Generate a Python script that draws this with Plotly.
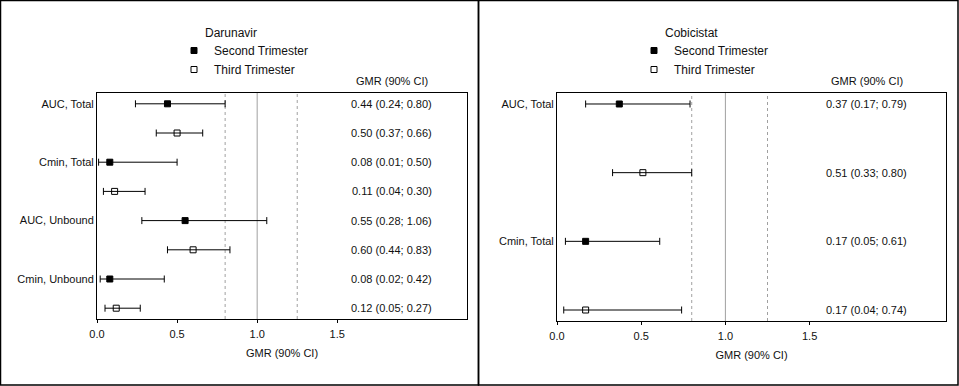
import plotly.graph_objects as go

# ---------------- data ----------------
drv_params = ["AUC, Total", "Cmin, Total", "AUC, Unbound", "Cmin, Unbound"]
drv_t2_est = [0.44, 0.08, 0.55, 0.08]
drv_t2_lo = [0.24, 0.01, 0.28, 0.02]
drv_t2_hi = [0.80, 0.50, 1.06, 0.42]
drv_t3_est = [0.50, 0.11, 0.60, 0.12]
drv_t3_lo = [0.37, 0.04, 0.44, 0.05]
drv_t3_hi = [0.66, 0.30, 0.83, 0.27]

cobi_params = ["AUC, Total", "Cmin, Total"]
cobi_t2_est = [0.37, 0.17]
cobi_t2_lo = [0.17, 0.05]
cobi_t2_hi = [0.79, 0.61]
cobi_t3_est = [0.51, 0.17]
cobi_t3_lo = [0.33, 0.04]
cobi_t3_hi = [0.80, 0.74]

panel_titles = ["Darunavir", "Cobicistat"]
series_names = ["Second Trimester", "Third Trimester"]
ref_lines = [0.8, 1.0, 1.25]
x_ticks = [0.0, 0.5, 1.0, 1.5]
x_ticklabels = ["0.0", "0.5", "1.0", "1.5"]
axis_title = "GMR (90% CI)"

W, H = 959, 386
FONT = "Liberation Sans, Arial, sans-serif"

fig = go.Figure()


def px_x(p):
    return p / W


def px_y(p):
    return 1 - p / H


panels = [
    dict(params=drv_params, t2=(drv_t2_est, drv_t2_lo, drv_t2_hi), t3=(drv_t3_est, drv_t3_lo, drv_t3_hi),
         xdom=[px_x(97), px_x(467)], ydom=[px_y(319), px_y(93)], pad=0.37, ax="", leg="legend",
         title=panel_titles[0], title_x=203, leg_x=174),
    dict(params=cobi_params, t2=(cobi_t2_est, cobi_t2_lo, cobi_t2_hi), t3=(cobi_t3_est, cobi_t3_lo, cobi_t3_hi),
         xdom=[px_x(557), px_x(946)], ydom=[px_y(321), px_y(93)], pad=0.16, ax="2", leg="legend2",
         title=panel_titles[1], title_x=663, leg_x=634),
]

text_x = 1.84
annotations = []
shapes = []

for p in panels:
    n = len(p["params"])
    rows_t2 = [2 * i for i in range(n)]
    rows_t3 = [2 * i + 1 for i in range(n)]
    xa = "x" + p["ax"]
    ya = "y" + p["ax"]
    for name, (est, lo, hi), rows, sym, msize in [
        (series_names[0], p["t2"], rows_t2, "square", 6),
        (series_names[1], p["t3"], rows_t3, "square-open", 6),
    ]:
        fig.add_trace(go.Scatter(
            x=est, y=rows, mode="markers", name=name, xaxis=xa, yaxis=ya,
            legend=p["leg"],
            marker=dict(symbol=sym, size=msize, color="black", line=dict(width=1, color="black")),
            error_x=dict(type="data", symmetric=False,
                         array=[h - e for h, e in zip(hi, est)],
                         arrayminus=[e - l for e, l in zip(est, lo)],
                         color="black", thickness=1, width=3.5),
            hoverinfo="skip",
        ))
        for e, l, h, r in zip(est, lo, hi, rows):
            annotations.append(dict(
                x=text_x, y=r, xref=xa, yref=ya, showarrow=False,
                text=f"{e:.2f} ({l:.2f}; {h:.2f})", xanchor="center", yanchor="middle",
                font=dict(size=11, color="#111", family=FONT)))
    # column header
    annotations.append(dict(x=text_x, y=px_y(81), xref=xa, yref="paper", showarrow=False,
                            text=axis_title, xanchor="center", yanchor="middle",
                            font=dict(size=11, color="#111", family=FONT)))
    # panel legend title
    annotations.append(dict(x=px_x(p["title_x"]), y=px_y(33), xref="paper", yref="paper", showarrow=False,
                            text=p["title"], xanchor="left", yanchor="middle",
                            font=dict(size=12, color="#111", family=FONT)))
    for rv in ref_lines:
        shapes.append(dict(type="line", xref=xa, yref=ya + " domain", x0=rv, x1=rv, y0=0, y1=1,
                           line=dict(color="#a0a0a0", width=1, dash="solid" if rv == 1.0 else "3px,3px"),
                           layer="below"))
    axis_common = dict(showline=True, mirror=True, linecolor="black", linewidth=1,
                       showgrid=False, zeroline=False, automargin=False)
    fig.update_layout({
        "xaxis" + p["ax"]: dict(domain=p["xdom"], range=[0, 2.31], anchor=ya,
                                tickvals=x_ticks, ticktext=x_ticklabels, ticks="outside",
                                ticklen=3, tickcolor="black", ticklabelstandoff=2,
                                tickfont=dict(size=11, color="#111", family=FONT),
                                title=dict(text=axis_title, standoff=10,
                                           font=dict(size=11, color="#111", family=FONT)),
                                **axis_common),
        "yaxis" + p["ax"]: dict(domain=p["ydom"], range=[2 * n - 1 + p["pad"], -p["pad"]], anchor=xa,
                                tickvals=rows_t2, ticktext=p["params"], ticks="",
                                tickfont=dict(size=11, color="#111", family=FONT),
                                **axis_common),
        p["leg"]: dict(x=px_x(p["leg_x"]), y=px_y(36), xanchor="left", yanchor="top",
                       bgcolor="rgba(0,0,0,0)", borderwidth=0, tracegroupgap=0,
                       font=dict(size=12, color="#111", family=FONT)),
    })

# panel borders
shapes.append(dict(type="rect", xref="paper", yref="paper", x0=px_x(0.5), x1=px_x(478.5),
                   y0=px_y(385), y1=px_y(0.5), line=dict(color="black", width=1.5)))
shapes.append(dict(type="rect", xref="paper", yref="paper", x0=px_x(478.5), x1=px_x(958),
                   y0=px_y(385), y1=px_y(0.5), line=dict(color="black", width=1.5)))

fig.update_layout(
    width=W, height=H, margin=dict(l=0, r=0, t=0, b=0, autoexpand=False),
    paper_bgcolor="white", plot_bgcolor="white",
    font=dict(family=FONT, size=11, color="#111"),
    annotations=annotations, shapes=shapes,
)

fig.write_html("out.html", config={"displayModeBar": False},
               post_script="document.body.style.margin='0';document.body.style.overflow='hidden';")
